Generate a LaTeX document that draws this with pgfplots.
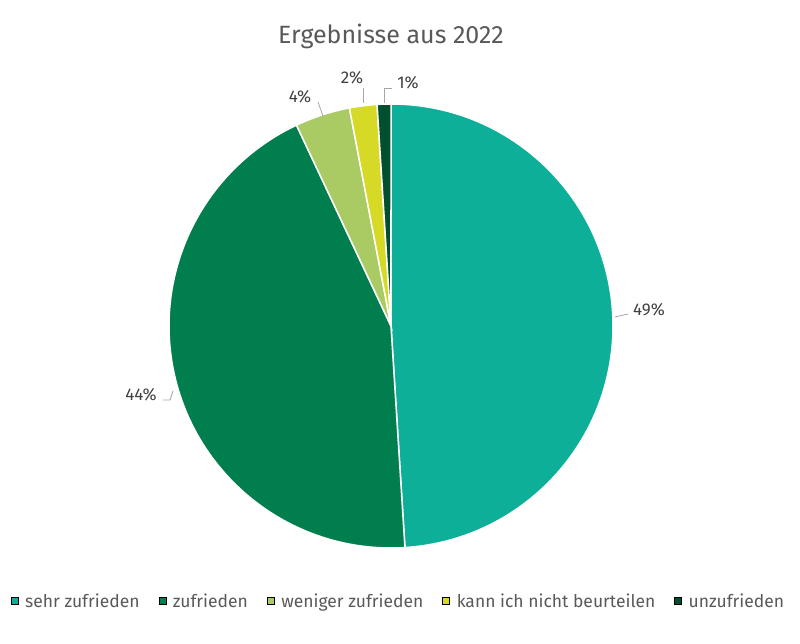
\documentclass[border=0pt]{standalone}
\usepackage{fontspec}
\setmainfont{Fira Sans}
\usepackage{pgfplots}
\pgfplotsset{compat=1.18}

\definecolor{cSehr}{HTML}{0EAF98}
\definecolor{cZuf}{HTML}{007E4E}
\definecolor{cWen}{HTML}{AACA63}
\definecolor{cKann}{HTML}{D6DA27}
\definecolor{cUnz}{HTML}{00502F}
\definecolor{txtgray}{HTML}{595959}
\definecolor{lblgray}{HTML}{404040}
\definecolor{leader}{HTML}{A6A6A6}

\begin{document}
\begin{tikzpicture}[x=1pt,y=1pt]
% shares in percent
\def\pA{49}\def\pB{44}\def\pC{4}\def\pD{2}\def\pE{1}
% slice borders, clockwise from 12 o'clock
\pgfmathsetmacro\aA{90}
\pgfmathsetmacro\aB{\aA-3.6*\pA}
\pgfmathsetmacro\aC{\aB-3.6*\pB}
\pgfmathsetmacro\aD{\aC-3.6*\pC}
\pgfmathsetmacro\aE{\aD-3.6*\pD}
\pgfmathsetmacro\aF{\aE-3.6*\pE}

\path[use as bounding box] (-391,-318) rectangle (409,326);

\begin{axis}[
  at={(0,0)}, anchor=center,
  scale only axis, width=444pt, height=444pt,
  xmin=-1, xmax=1, ymin=-1, ymax=1,
  hide axis, clip=false,
  title={Ergebnisse aus 2022},
  title style={at={(0.5,1.1396)}, anchor=center, font=\fontsize{25}{30}\selectfont, text=txtgray},
  legend columns=5,
  legend style={
    at={(0.5146,-0.1194)}, anchor=center, draw=none, fill=none,
    font=\fontsize{17.5}{20}\selectfont, text=txtgray,
    nodes={inner sep=0pt},
    /tikz/every odd column/.append style={column sep=7pt},
    /tikz/every even column/.append style={column sep=19pt},
  },
  legend image code/.code={\fill[#1] (0pt,-3.5pt) rectangle (7pt,3.5pt);},
]
\fill[cSehr, draw=white, line width=1.5pt] (axis cs:0,0) -- (axis cs:{cos(\aA)},{sin(\aA)}) arc[start angle=\aA, end angle=\aB, radius=222pt] -- cycle;
\fill[cZuf, draw=white, line width=1.5pt] (axis cs:0,0) -- (axis cs:{cos(\aB)},{sin(\aB)}) arc[start angle=\aB, end angle=\aC, radius=222pt] -- cycle;
\fill[cWen, draw=white, line width=1.5pt] (axis cs:0,0) -- (axis cs:{cos(\aC)},{sin(\aC)}) arc[start angle=\aC, end angle=\aD, radius=222pt] -- cycle;
\fill[cKann, draw=white, line width=1.5pt] (axis cs:0,0) -- (axis cs:{cos(\aD)},{sin(\aD)}) arc[start angle=\aD, end angle=\aE, radius=222pt] -- cycle;
\fill[cUnz, draw=white, line width=1.5pt] (axis cs:0,0) -- (axis cs:{cos(\aE)},{sin(\aE)}) arc[start angle=\aE, end angle=\aF, radius=222pt] -- cycle;

\addlegendimage{fill=cSehr}\addlegendentry{sehr zufrieden}
\addlegendimage{fill=cZuf}\addlegendentry{zufrieden}
\addlegendimage{fill=cWen}\addlegendentry{weniger zufrieden}
\addlegendimage{fill=cKann}\addlegendentry{kann ich nicht beurteilen}
\addlegendimage{fill=cUnz}\addlegendentry{unzufrieden}
\end{axis}

% data labels with leader lines
\begin{scope}[every node/.style={text=lblgray, font=\fontsize{17}{20}\selectfont, inner sep=0pt}]
\draw[leader, line width=0.8pt] (224,9) -- (237,12);
\node at (258,16) {49\%};
\draw[leader, line width=0.8pt] (-228,-74) -- (-221,-74) -- (-218,-65);
\node at (-250,-69) {44\%};
\draw[leader, line width=0.8pt] (-73,224) -- (-68,210);
\node at (-91,229) {4\%};
\draw[leader, line width=0.8pt] (-28,238) -- (-28,223);
\node at (-39,248) {2\%};
\draw[leader, line width=0.8pt] (1,238) -- (-7,238) -- (-7,223);
\node at (17,243) {1\%};
\end{scope}
\end{tikzpicture}
\end{document}
